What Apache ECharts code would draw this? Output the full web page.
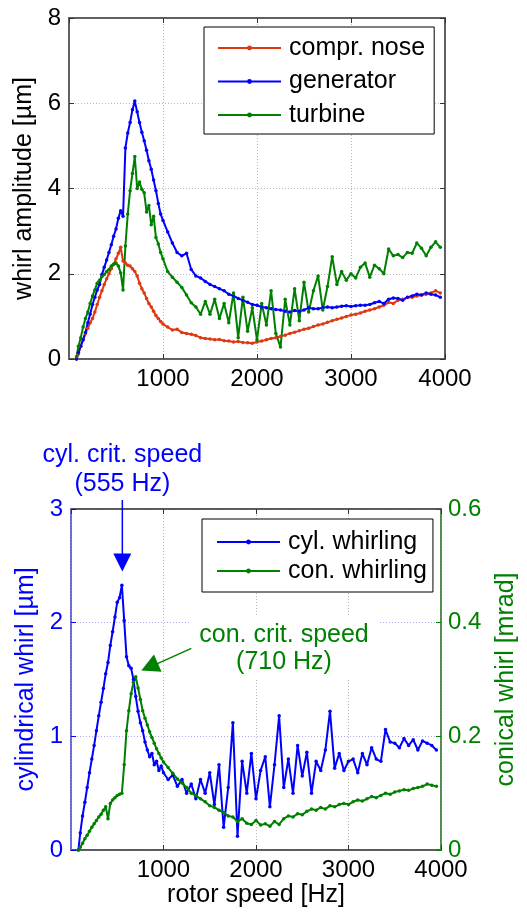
<!DOCTYPE html>
<html>
<head>
<meta charset="utf-8">
<script src="https://cdn.jsdelivr.net/npm/echarts@6/dist/echarts.min.js"></script>
<style>
  html, body { margin: 0; padding: 0; background: #fff; }
  #chart { width: 527px; height: 914px; }
</style>
</head>
<body>
<div id="chart"></div>
<script>
// rotor speed [Hz] of each measurement point
const speedHz = [80, 100, 125, 150, 175, 200, 225, 250, 275, 300, 325, 350, 375, 400, 425, 450, 475, 500, 525, 550,
  575, 600, 625, 650, 675, 700, 725, 750, 775, 800, 825, 850, 875, 900, 925, 950, 975, 1000,
  1050, 1100, 1150, 1200, 1250, 1300, 1350, 1400, 1450, 1500, 1550, 1600, 1650, 1700, 1750, 1800, 1850, 1900, 1950, 2000,
  2050, 2100, 2150, 2200, 2250, 2300, 2350, 2400, 2450, 2500, 2550, 2600, 2650, 2700, 2750, 2800, 2850, 2900, 2950, 3000,
  3050, 3100, 3150, 3200, 3250, 3300, 3350, 3400, 3450, 3500, 3550, 3600, 3650, 3700, 3750, 3800, 3850, 3900, 3950];

// top plot: whirl amplitude [um]
const comprNose = [0.0, 0.12, 0.3, 0.45, 0.6, 0.72, 0.85, 0.95, 1.1, 1.28, 1.45, 1.6, 1.75, 1.88, 2.0, 2.12, 2.22, 2.35, 2.48, 2.62,
  2.3, 2.25, 2.2, 2.18, 2.12, 2.05, 1.95, 1.78, 1.65, 1.55, 1.42, 1.3, 1.22, 1.12, 1.02, 0.95, 0.88, 0.82,
  0.75, 0.68, 0.7, 0.62, 0.6, 0.58, 0.55, 0.5, 0.48, 0.47, 0.45, 0.46, 0.43, 0.42, 0.4, 0.41, 0.39, 0.38, 0.37, 0.4,
  0.42, 0.45, 0.48, 0.5, 0.53, 0.56, 0.6, 0.63, 0.66, 0.7, 0.72, 0.76, 0.8, 0.82, 0.86, 0.9, 0.93, 0.96, 1.0, 1.03,
  1.05, 1.08, 1.12, 1.15, 1.18, 1.22, 1.26, 1.33, 1.3, 1.38, 1.4, 1.44, 1.45, 1.48, 1.5, 1.52, 1.55, 1.6, 1.55];
const generator = [0.0, 0.15, 0.3, 0.45, 0.62, 0.85, 1.05, 1.28, 1.45, 1.62, 1.75, 1.98, 2.15, 2.32, 2.5, 2.68, 2.88, 3.05, 3.3, 3.48,
  3.35, 4.95, 5.3, 5.55, 5.85, 6.05, 5.8, 5.55, 5.32, 5.12, 4.9, 4.65, 4.45, 4.2, 3.95, 3.65, 3.4, 3.25,
  2.98, 2.72, 2.5, 2.42, 2.48, 2.1, 1.95, 1.9, 1.82, 1.75, 1.7, 1.65, 1.6, 1.52, 1.48, 1.42, 1.38, 1.33, 1.28, 1.26,
  1.22, 1.2, 1.18, 1.16, 1.15, 1.12, 1.1, 1.14, 1.12, 1.15, 1.2, 1.18, 1.18, 1.2, 1.22, 1.2, 1.22, 1.24, 1.25, 1.23,
  1.25, 1.26, 1.26, 1.28, 1.32, 1.35, 1.3, 1.4, 1.43, 1.42, 1.38, 1.45, 1.48, 1.52, 1.5, 1.55, 1.52, 1.5, 1.45];
const turbine = [0.05, 0.3, 0.5, 0.75, 0.95, 1.1, 1.3, 1.48, 1.62, 1.78, 1.85, 1.93, 1.98, 2.05, 2.1, 2.18, 2.22, 2.25, 2.18, 2.02,
  1.62, 2.65, 3.4, 3.95, 4.35, 4.75, 4.0, 4.15, 3.98, 3.9, 3.45, 3.6, 3.15, 3.35, 2.85, 2.7, 2.5, 2.35,
  2.05, 1.92, 1.8, 1.68, 1.5, 1.32, 1.22, 1.05, 1.35, 1.05, 1.4, 0.95, 1.3, 0.85, 1.55, 0.5, 1.45, 0.65, 1.2, 0.45,
  1.3, 0.8, 1.6, 0.6, 0.28, 1.4, 0.8, 1.65, 0.9, 1.8, 1.1, 1.6, 1.95, 1.15, 1.7, 2.4, 1.75, 2.05, 1.85, 2.0,
  1.9, 2.15, 2.25, 1.92, 2.2, 2.12, 2.0, 2.58, 2.42, 2.45, 2.38, 2.5, 2.48, 2.72, 2.6, 2.42, 2.62, 2.75, 2.62];

// bottom plot: cylindrical whirl [um] (left axis) and conical whirl [mrad] (right axis)
const cylWhirl = [0.0, 0.15, 0.3, 0.42, 0.55, 0.68, 0.8, 0.92, 1.05, 1.18, 1.3, 1.42, 1.55, 1.65, 1.8, 1.92, 2.05, 2.18, 2.22, 2.33,
  2.02, 1.7, 1.62, 1.6, 1.5, 1.35, 1.22, 1.12, 1.05, 0.95, 0.88, 0.82, 0.85, 0.75, 0.78, 0.7, 0.74, 0.68,
  0.62, 0.66, 0.56, 0.62, 0.5, 0.58, 0.45, 0.62, 0.5, 0.68, 0.4, 0.75, 0.2, 0.55, 1.12, 0.12, 0.78, 0.5, 0.85, 0.45,
  0.7, 0.82, 0.38, 0.75, 1.18, 0.55, 0.8, 0.5, 0.92, 0.65, 0.86, 0.5, 0.78, 0.7, 0.88, 1.22, 0.72, 0.85, 0.7, 0.78,
  0.8, 0.68, 0.85, 0.75, 0.9, 0.8, 0.78, 1.06, 0.95, 0.94, 0.9, 0.98, 0.92, 0.97, 0.88, 0.96, 0.94, 0.92, 0.88];
const conWhirl = [0.0, 0.005, 0.012, 0.02, 0.026, 0.033, 0.04, 0.046, 0.052, 0.058, 0.063, 0.07, 0.076, 0.055, 0.082, 0.088, 0.092, 0.096, 0.098, 0.1,
  0.15, 0.21, 0.245, 0.275, 0.295, 0.305, 0.285, 0.265, 0.245, 0.232, 0.22, 0.208, 0.198, 0.188, 0.178, 0.17, 0.162, 0.155,
  0.145, 0.135, 0.125, 0.118, 0.11, 0.1, 0.096, 0.09, 0.085, 0.078, 0.075, 0.07, 0.066, 0.06, 0.058, 0.05, 0.055, 0.047, 0.045, 0.052,
  0.044, 0.046, 0.042, 0.05, 0.045, 0.055, 0.06, 0.058, 0.064, 0.062, 0.068, 0.072, 0.07, 0.075, 0.072, 0.078, 0.076, 0.08, 0.082, 0.08,
  0.085, 0.088, 0.086, 0.09, 0.094, 0.092, 0.096, 0.1, 0.098, 0.102, 0.104, 0.106, 0.105, 0.108, 0.11, 0.112, 0.116, 0.114, 0.112];

const critCyl = 555;   // Hz
const critCon = 710;   // Hz

const FONT = "Liberation Sans";
const RED = "#de3a12", BLUE = "#0000ff", GREEN = "#008000";

function pairs(xs, ys) {
  return xs.map(function (x, i) { return [x, ys[i]]; });
}

function lineSeries(name, color, data, xi, yi) {
  return {
    name: name,
    type: "line",
    xAxisIndex: xi,
    yAxisIndex: yi,
    data: data,
    symbol: "circle",
    symbolSize: 3.5,
    color: color,
    lineStyle: { width: 2, color: color },
    itemStyle: { color: color },
    animation: false
  };
}

function xAx(grid, top, showLabels, name) {
  return {
    type: "value", gridIndex: grid, position: top ? "top" : "bottom",
    min: 0, max: 4000, interval: 1000,
    name: name || "", nameLocation: "middle", nameGap: 33,
    nameTextStyle: { fontFamily: FONT, fontSize: 25, color: "#000" },
    axisLine: { show: true, onZero: false, lineStyle: { color: "#555", width: 1.5 } },
    axisTick: { show: true, inside: true, length: 5, lineStyle: { color: "#333" } },
    axisLabel: { show: showLabels, showMinLabel: false, margin: 8, fontFamily: FONT, fontSize: 24, color: "#000",
      formatter: function (v) { return String(v); } },
    splitLine: { show: !top, lineStyle: { type: [1, 2], color: "#b8b8b8" } }
  };
}

const chart = echarts.init(document.getElementById("chart"));

const option = {
  animation: false,
  textStyle: { fontFamily: FONT },
  grid: [
    { left: 69, top: 18, width: 376, height: 341, show: true, borderColor: "#555", borderWidth: 1.5 },
    { left: 71, top: 509, width: 375, height: 341, show: true, borderColor: "#333", borderWidth: 1.5 }
  ],
  legend: [
    {
      data: ["compr. nose", "generator", "turbine"],
      orient: "vertical", left: 204, top: 27,
      padding: [8, 9, 6, 13], itemGap: 7.5,
      itemWidth: 63, itemHeight: 6,
      borderColor: "#000", borderWidth: 1, backgroundColor: "#fff",
      textStyle: { fontFamily: FONT, fontSize: 25, lineHeight: 26, color: "#000", padding: [0, 0, 0, 3] }
    },
    {
      data: ["cyl. whirling", "con. whirling"],
      orient: "vertical", left: 202, top: 519,
      padding: [10, 6, 8, 14], itemGap: 3,
      itemWidth: 63, itemHeight: 6,
      borderColor: "#000", borderWidth: 1, backgroundColor: "#fff",
      textStyle: { fontFamily: FONT, fontSize: 25, lineHeight: 26, color: "#000", padding: [0, 0, 0, 3] }
    }
  ],
  xAxis: [
    xAx(0, false, true),
    xAx(0, true, false),
    xAx(1, false, true, "rotor speed [Hz]"),
    xAx(1, true, false)
  ],
  yAxis: [
    {
      type: "value", gridIndex: 0, min: 0, max: 8, interval: 2,
      name: "whirl amplitude [µm]", nameLocation: "middle", nameRotate: 90, nameGap: 16,
      nameTextStyle: { fontFamily: FONT, fontSize: 25, color: "#000" },
      axisLine: { show: true, onZero: false, lineStyle: { color: "#555", width: 1.5 } },
      axisTick: { show: true, inside: true, length: 5, lineStyle: { color: "#333" } },
      axisLabel: { margin: 8, fontFamily: FONT, fontSize: 24, color: "#000" },
      splitLine: { show: true, lineStyle: { type: [1, 2], color: "#b8b8b8" } }
    },
    {
      type: "value", gridIndex: 0, min: 0, max: 8, interval: 2, position: "right",
      axisLine: { show: true, onZero: false, lineStyle: { color: "#555", width: 1.5 } },
      axisTick: { show: true, inside: true, length: 5, lineStyle: { color: "#333" } },
      axisLabel: { show: false },
      splitLine: { show: false }
    },
    {
      type: "value", gridIndex: 1, min: 0, max: 3, interval: 1,
      name: "cylindrical whirl [µm]", nameLocation: "middle", nameRotate: 90, nameGap: 19,
      nameTextStyle: { fontFamily: FONT, fontSize: 25, color: BLUE },
      axisLine: { show: true, onZero: false, lineStyle: { color: "#6a6aff", width: 1.5 } },
      axisTick: { show: true, inside: true, length: 5, lineStyle: { color: BLUE } },
      axisLabel: { margin: 8, fontFamily: FONT, fontSize: 24, color: BLUE },
      splitLine: { show: true, lineStyle: { type: [1, 2], color: "#a8a8ee" } }
    },
    {
      type: "value", gridIndex: 1, min: 0, max: 0.6, interval: 0.2, position: "right",
      name: "conical whirl [mrad]", nameLocation: "middle", nameRotate: 90, nameGap: 53,
      nameTextStyle: { fontFamily: FONT, fontSize: 25, color: GREEN },
      axisLine: { show: true, onZero: false, lineStyle: { color: "#4a9a4a", width: 1.5 } },
      axisTick: { show: true, inside: true, length: 5, lineStyle: { color: GREEN } },
      axisLabel: { margin: 7, fontFamily: FONT, fontSize: 24, color: GREEN },
      splitLine: { show: false }
    }
  ],
  series: [
    lineSeries("compr. nose", RED, pairs(speedHz, comprNose), 0, 0),
    lineSeries("generator", BLUE, pairs(speedHz, generator), 0, 0),
    lineSeries("turbine", GREEN, pairs(speedHz, turbine), 0, 0),
    lineSeries("cyl. whirling", BLUE, pairs(speedHz, cylWhirl), 2, 2),
    lineSeries("con. whirling", GREEN, pairs(speedHz, conWhirl), 2, 3)
  ]
};
chart.setOption(option);

// annotation arrows, anchored on the data coordinates of the critical speeds
function head(tip, tail, len, half) {
  const dx = tip[0] - tail[0], dy = tip[1] - tail[1];
  const d = Math.sqrt(dx * dx + dy * dy);
  const ux = dx / d, uy = dy / d;
  const bx = tip[0] - ux * len, by = tip[1] - uy * len;
  return [[tip[0], tip[1]], [bx - uy * half, by + ux * half], [bx + uy * half, by - ux * half]];
}
function txt(x, y, s, color) {
  return {
    type: "text", x: x, y: y, z: 100,
    style: { text: s, fill: color, font: "25px '" + FONT + "'", align: "center", verticalAlign: "middle",
      textAlign: "center", textVerticalAlign: "middle" }
  };
}

const tipCyl = chart.convertToPixel({ seriesIndex: 3 }, [critCyl, 2.45]);
const tailCyl = [tipCyl[0], 500];
const tipCon = chart.convertToPixel({ seriesIndex: 3 }, [critCon + 50, 1.58]);
const tailCon = [tipCon[0] + 50, tipCon[1] - 22];

chart.setOption({
  graphic: [
    { type: "rect", z: 99, shape: { x: 190, y: 617, width: 188, height: 62 }, style: { fill: "#fff" } },
    txt(tipCyl[0], 455, "cyl. crit. speed", BLUE),
    txt(tipCyl[0], 484, "(555 Hz)", BLUE),
    { type: "line", z: 100, shape: { x1: tailCyl[0], y1: tailCyl[1], x2: tipCyl[0], y2: tipCyl[1] - 10 },
      style: { stroke: BLUE, lineWidth: 1.5 } },
    { type: "polygon", z: 100, shape: { points: head(tipCyl, tailCyl, 18, 9) }, style: { fill: BLUE } },
    txt(284, 635, "con. crit. speed", GREEN),
    txt(284, 662, "(710 Hz)", GREEN),
    { type: "line", z: 100, shape: { x1: tailCon[0], y1: tailCon[1], x2: tipCon[0] + 10, y2: tipCon[1] - 4 },
      style: { stroke: GREEN, lineWidth: 1.5 } },
    { type: "polygon", z: 100, shape: { points: head(tipCon, tailCon, 18, 9.5) }, style: { fill: GREEN } }
  ]
});
</script>
</body>
</html>
